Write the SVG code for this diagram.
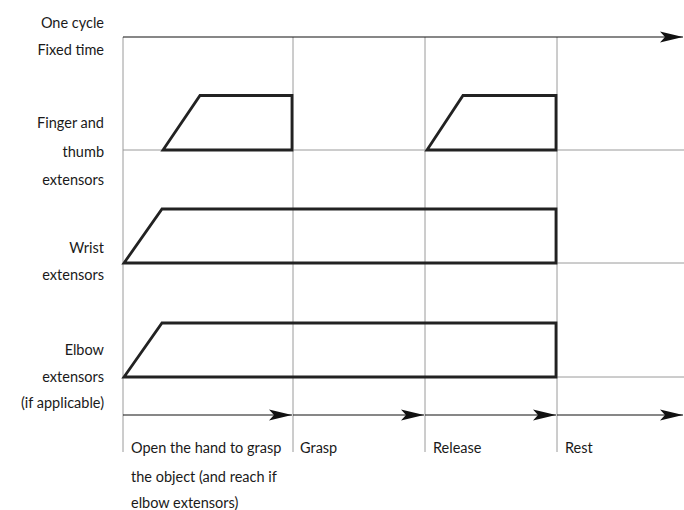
<svg xmlns="http://www.w3.org/2000/svg" width="684" height="510" viewBox="0 0 684 510">
<style>
.lbl{font-family:Lato,"Open Sans","Liberation Sans",sans-serif;font-size:14.5px;fill:#1a1a1a}
.r{text-anchor:end}
.grid{stroke:#9a9a9a;stroke-width:1;fill:none}
.sig{stroke:#222;stroke-width:2.8;fill:none;stroke-linejoin:miter}
.arr{stroke:#111;stroke-width:1.2;fill:none;marker-end:url(#ah)}
</style>
<defs>
<marker id="ah" markerUnits="userSpaceOnUse" markerWidth="26" markerHeight="12" refX="23" refY="6" orient="auto">
<path d="M0,0.5 L23,6 L0,11.5 L5,6 Z" fill="#111"/>
</marker>
</defs>
<g id="grid">
<line class="grid" x1="123" y1="37" x2="123" y2="452"/>
<line class="grid" x1="293" y1="37" x2="293" y2="452"/>
<line class="grid" x1="425" y1="37" x2="425" y2="452"/>
<line class="grid" x1="557" y1="37" x2="557" y2="452"/>
<line class="grid" x1="123" y1="150" x2="684" y2="150"/>
<line class="grid" x1="123" y1="263" x2="684" y2="263"/>
<line class="grid" x1="123" y1="377" x2="684" y2="377"/>
</g>
<g id="labels">
<text class="lbl r" x="104" y="28">One cycle</text>
<text class="lbl r" x="104" y="55">Fixed time</text>
<text class="lbl r" x="104" y="128">Finger and</text>
<text class="lbl r" x="104" y="157">thumb</text>
<text class="lbl r" x="104" y="185">extensors</text>
<text class="lbl r" x="104" y="253">Wrist</text>
<text class="lbl r" x="104" y="280">extensors</text>
<text class="lbl r" x="104" y="355">Elbow</text>
<text class="lbl r" x="104" y="382">extensors</text>
<text class="lbl r" x="104" y="408">(if applicable)</text>
</g>
<g id="finger">
<path class="sig" d="M163,150 L200,95.5 L292,95.5 L292,150 Z"/>
<path class="sig" d="M427,150 L463,95.5 L556,95.5 L556,150 Z"/>
</g>
<g id="wrist">
<path class="sig" d="M124,263 L162,209 L556,209 L556,263 Z"/>
</g>
<g id="elbow">
<path class="sig" d="M124,377 L162,323 L556,323 L556,377 Z"/>
</g>
<g id="connectors">
<line class="arr" x1="123" y1="37" x2="683" y2="37"/>
<line class="arr" x1="123" y1="415" x2="292" y2="415"/>
<line class="arr" x1="293" y1="415" x2="424" y2="415"/>
<line class="arr" x1="425" y1="415" x2="556" y2="415"/>
<line class="arr" x1="557" y1="415" x2="683" y2="415"/>
</g>
<g id="phases">
<text class="lbl" x="131" y="453">Open the hand to grasp</text>
<text class="lbl" x="131" y="482">the object (and reach if</text>
<text class="lbl" x="131" y="508">elbow extensors)</text>
<text class="lbl" x="300" y="453">Grasp</text>
<text class="lbl" x="433" y="453">Release</text>
<text class="lbl" x="565" y="453">Rest</text>
</g>
</svg>
